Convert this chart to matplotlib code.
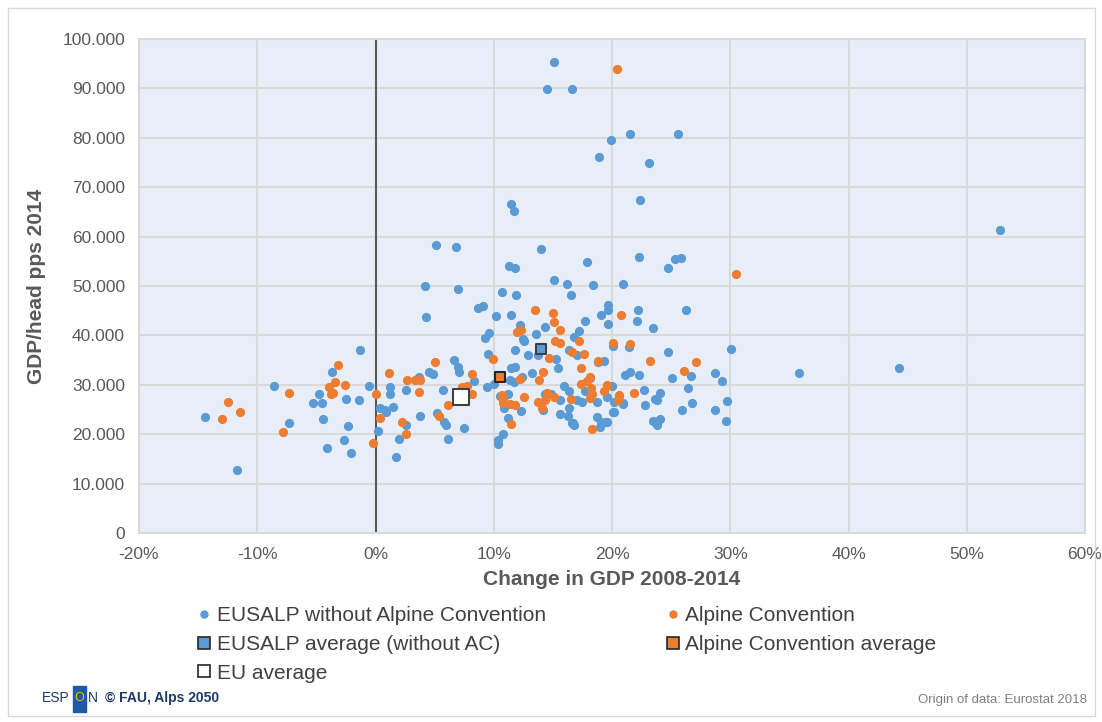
import matplotlib
matplotlib.use("Agg")
import matplotlib.pyplot as plt
from matplotlib.lines import Line2D
from matplotlib.patches import Rectangle
from matplotlib.ticker import FuncFormatter, MultipleLocator

plt.rcParams['font.family'] = ['Liberation Sans', 'DejaVu Sans']

# GDP change 2008-2014 (%) and GDP/head pps 2014 (thousands)
eusalp_x = [15.1, 14.5, 16.6, 21.5, 25.6, 19.9, 18.9, 23.1, 22.4, 11.5, 11.7, 52.8, 5.1, 6.8, 14.0,
            22.3, 25.3, 25.8, 17.9, 11.3, 11.8, 24.7, 15.1, 16.2, 18.4, 20.9, 4.2, 7.0, 10.7, 11.9,
            16.5, 26.3, 8.7, 9.1, 19.7, 19.7, 22.2, 4.3, 10.2, 11.5, 12.2, 19.1, 17.7, 14.3, 19.7,
            22.1, 23.5, 17.2, 13.6, 9.6, 9.3, 12.5, 16.8,
            12.6, 11.8, 12.9, 13.7, 16.4, 17.0, 15.3, 9.5, 6.6, 7.0, 7.1, 8.3, 3.7, 4.5, 4.9, 1.2,
            1.2, 2.6, 5.7, 9.4, 10.0, 11.4, 11.7, 11.8, 12.4, 13.2, 11.5, 15.4, 18.8, 19.3, 21.1,
            21.5, 22.3, 25.1, 26.7, 28.7, 29.3, 26.4, 24.7, 30.1, 20.1, 21.4, 35.8, 44.3,
            18.1, 17.7, 15.9, 16.4, 20.0, 19.6, 20.6, 20.9, 22.7, 24.1, 23.6, 23.8, 22.8, 20.1,
            18.7, 19.5, 18.95, 16.7, 16.8, 23.5, 24.1, 23.8, 17.0, 17.5, 18.7, 16.4, 16.3, 15.6,
            15.6, 29.7, 26.8, 25.9, 28.7, 29.6, 20.2, 20.9, 20.2, 19.6, 19.1,
            -1.3, -3.7, -8.6, -4.75, -0.57, -2.5, -1.4, -5.25, -4.5, -14.4, 0.4, 0.9, -4.4, -7.3,
            -2.3, 0.17, -2.7, -4.1, -2.1, -11.7, 0.8, 1.5, 2.6, 2.0, 1.7, 3.8, 5.2, 5.8, 6.0, 7.5,
            6.1, 10.5, 10.9, 11.2, 12.3, 11.2, 10.8, 10.4, 10.4, 14.3, 14.8, 14.2, 16.6]
eusalp_y = [95.3, 89.9, 89.9, 80.7, 80.7, 79.6, 76.1, 74.8, 67.5, 66.5, 65.1, 61.4, 58.2, 57.8, 57.4,
            55.9, 55.4, 55.7, 54.8, 54.1, 53.7, 53.6, 51.3, 50.5, 50.3, 50.5, 49.9, 49.4, 48.8, 48.1,
            48.2, 45.2, 45.5, 45.9, 46.2, 45.1, 45.2, 43.7, 44.0, 44.1, 42.2, 44.1, 42.9, 41.8, 42.4,
            42.9, 41.4, 40.8, 40.3, 40.4, 39.5, 39.2, 39.6,
            38.9, 37.1, 36.0, 36.1, 37.0, 36.1, 35.2, 36.3, 35.1, 33.6, 32.6, 30.8, 31.5, 32.6, 32.1, 29.5,
            28.2, 29.0, 29.0, 29.5, 30.2, 31.0, 30.6, 33.7, 31.5, 32.4, 33.3, 33.3, 34.6, 34.8, 32.0,
            32.5, 32.0, 31.3, 31.7, 32.4, 30.7, 29.4, 36.6, 37.3, 37.9, 37.6, 32.3, 33.5,
            31.3, 28.8, 29.8, 28.8, 29.8, 27.6, 27.8, 26.1, 29.0, 28.4, 27.2, 27.0, 26.0, 24.5,
            23.4, 22.5, 21.5, 22.2, 21.8, 22.6, 23.1, 21.9, 26.9, 26.6, 26.6, 25.3, 23.7, 26.9,
            24.1, 26.8, 26.3, 24.9, 24.8, 22.6, 26.6, 26.4, 24.4, 22.5, 22.5,
            37.1, 32.6, 29.8, 28.1, 29.7, 27.2, 26.9, 26.3, 26.3, 23.5, 25.3, 24.5, 23.0, 22.2,
            21.7, 20.7, 18.8, 17.2, 16.2, 12.8, 24.8, 25.5, 21.8, 19.1, 15.4, 23.7, 24.2, 22.5, 21.8, 21.2,
            19.0, 27.8, 25.3, 28.1, 24.7, 23.2, 20.0, 18.8, 18.0, 28.1, 28.1, 24.8, 22.3]

alpine_x = [20.4, 30.5, 13.5, 15.0, 15.1, 15.6, 20.8, 12.0, 12.3, 15.2, 15.6, 17.25, 20.1, 21.5,
            16.6, 17.6, 14.7, 9.95, 5.0, 8.2, 1.1, 2.7, 3.3, 3.75, 3.7, 7.35, 7.7, 8.2, 12.2, 13.85,
            14.2, 10.8, 10.8, 11.4, 11.8, 12.6, 11.5, 13.7, 14.3, 15.1, 14.1, 16.5, 0.4, 2.2, 2.6,
            5.4, 6.1, 23.2, 27.1, 17.4, 18.8, 26.1, 18.1, 17.9, 18.2, 18.3, 18.1, 17.4, 19.55, 19.3,
            21.9, 20.5, 18.3, 20.55, 14.5, 10.7,
            -3.2, -7.3, -3.9, -3.4, -2.6, -3.6, -3.8, 0.0, -12.5, -11.5, -13.0, -7.8, -0.2]
alpine_y = [93.9, 52.5, 45.2, 44.5, 42.8, 41.0, 44.2, 40.6, 41.0, 38.9, 38.5, 38.9, 38.5, 38.3,
            36.6, 36.3, 35.5, 35.3, 34.6, 32.2, 32.3, 30.9, 30.9, 30.9, 28.5, 29.5, 29.8, 28.1, 31.2, 31.0,
            32.5, 27.2, 26.3, 26.1, 26.0, 27.6, 22.1, 26.5, 26.9, 27.6, 25.3, 27.2, 23.2, 22.4, 20.0,
            23.6, 26.0, 34.9, 34.7, 33.4, 34.8, 32.7, 31.5, 30.8, 29.4, 28.1, 27.4, 30.2, 30.0, 28.7,
            28.4, 26.9, 21.0, 27.9, 28.3, 27.9,
            34.1, 28.4, 29.6, 30.5, 29.9, 28.4, 28.1, 28.1, 26.5, 24.5, 23.0, 20.5, 18.2]

eusalp_avg = (14.0, 37.2)
alpine_avg = (10.5, 31.5)
eu_avg = (7.25, 27.6)

blue = '#5B9BD5'
orange = '#ED7D31'
grey = '#595959'

W, H = 1102, 722
fig = plt.figure(figsize=(W / 100, H / 100), dpi=100)
fig.patches.append(Rectangle((8 / W, 6 / H), 1087 / W, 708 / H, transform=fig.transFigure,
                             fill=False, edgecolor='#D9D9D9', lw=1))

ax = fig.add_axes([139 / W, 1 - 533 / H, (1085 - 139) / W, (533 - 39) / H])
ax.set_facecolor('#E8EEF7')
ax.set_xlim(-20, 60)
ax.set_ylim(0, 100000)
ax.xaxis.set_major_locator(MultipleLocator(10))
ax.yaxis.set_major_locator(MultipleLocator(10000))
ax.grid(True, color='#D9D9D9', lw=1.5)
ax.set_axisbelow(True)
for s in ax.spines.values():
    s.set_color('#D9D9D9')
    s.set_linewidth(1.5)
ax.axvline(0, color=grey, lw=1.5, zorder=2)

ax.xaxis.set_major_formatter(FuncFormatter(lambda v, p: f"{int(round(v))}%"))
ax.yaxis.set_major_formatter(FuncFormatter(lambda v, p: f"{int(v):,}".replace(",", ".")))
ax.tick_params(length=0, labelsize=12.5, labelcolor=grey, pad=10)

ax.scatter(eusalp_x, [v * 1000 for v in eusalp_y], s=44, color=blue, lw=0, zorder=3)
ax.scatter(alpine_x, [v * 1000 for v in alpine_y], s=44, color=orange, lw=0, zorder=3)
ax.scatter([eu_avg[0]], [eu_avg[1] * 1000], marker='s', s=120, color='white', edgecolor='#404040', lw=1.5, zorder=4)
ax.scatter([alpine_avg[0]], [alpine_avg[1] * 1000], marker='s', s=62, color=orange, edgecolor='#262626', lw=1.5, zorder=4)
ax.scatter([eusalp_avg[0]], [eusalp_avg[1] * 1000], marker='s', s=62, color=blue, edgecolor='#404040', lw=1.5, zorder=4)

ax.set_xlabel('Change in GDP 2008-2014', fontsize=15, fontweight='bold', color=grey, labelpad=6)
ax.set_ylabel('GDP/head pps 2014', fontsize=15, fontweight='bold', color=grey, labelpad=12)

handles = [
    Line2D([], [], ls='', marker='o', ms=5, color=blue),
    Line2D([], [], ls='', marker='s', ms=8, mfc=blue, mec='#262626', mew=1.2),
    Line2D([], [], ls='', marker='s', ms=8, mfc='white', mec='#262626', mew=1.2),
    Line2D([], [], ls='', marker='o', ms=5, color=orange),
    Line2D([], [], ls='', marker='s', ms=8, mfc=orange, mec='#262626', mew=1.2),
]
labels = ['EUSALP without Alpine Convention', 'EUSALP average (without AC)', 'EU average',
          'Alpine Convention', 'Alpine Convention average']
fig.legend(handles, labels, ncol=2, loc='upper left', bbox_to_anchor=(198 / W, 1 - 606 / H),
           frameon=False, fontsize=15, labelcolor='#404040', handlelength=0.6, handletextpad=0.3,
           columnspacing=5.8, labelspacing=0.47, borderpad=0, borderaxespad=0)

fig.text(42 / W, 1 - 698 / H, 'ESP', fontsize=10, color='#1F3A68', va='center', ha='left')
fig.patches.append(Rectangle((73 / W, 1 - 712 / H), 13 / W, 26 / H, transform=fig.transFigure,
                             color='#1F5AA6'))
fig.text(79.5 / W, 1 - 698 / H, 'O', fontsize=9, color='#F2C200', va='center', ha='center')
fig.text(88 / W, 1 - 698 / H, 'N', fontsize=10, color='#1F3A68', va='center', ha='left')
fig.text(105 / W, 1 - 698 / H, '© FAU, Alps 2050', fontsize=10, fontweight='bold', color='#1F3A68',
         va='center', ha='left')
fig.text(1087 / W, 1 - 700 / H, 'Origin of data: Eurostat 2018', fontsize=9.5, color='#7F7F7F',
         va='center', ha='right')

fig.savefig('out.png', dpi=100)
